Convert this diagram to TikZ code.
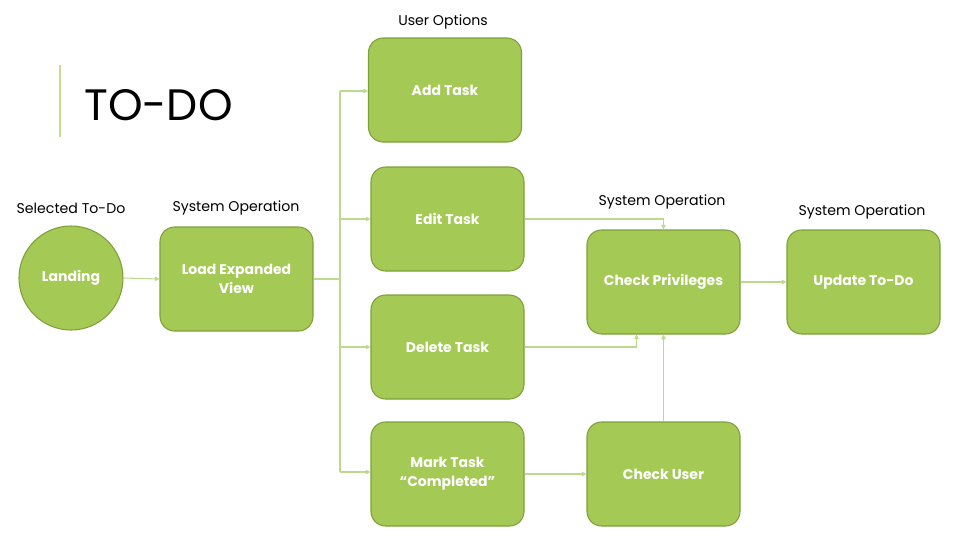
\documentclass[tikz,border=0pt]{standalone}
\usepackage{fontspec}
\setmainfont{Poppins}
\usetikzlibrary{arrows.meta,calc}
\definecolor{boxfill}{HTML}{A5C955}
\definecolor{boxline}{HTML}{7E9F3C}
\definecolor{conn}{HTML}{BCDA8E}
\definecolor{accent}{HTML}{C3DE8E}
\tikzset{
  box/.style={draw=boxline, line width=0.8pt, fill=boxfill, rounded corners=11pt,
    minimum width=114.75pt, minimum height=78pt, text=white, align=center,
    font=\fontsize{10.5}{14}\selectfont\bfseries, inner sep=2pt},
  circ/.style={draw=boxline, line width=0.8pt, fill=boxfill, circle, minimum size=78pt,
    text=white, font=\fontsize{10.5}{14}\selectfont\bfseries},
  lbl/.style={font=\fontsize{10.6}{12}\selectfont, text=black},
  link/.style={draw=conn, line width=0.8pt, -{Triangle[length=3.5pt,width=3.5pt]}},
  plain/.style={draw=conn, line width=0.8pt}
}
\begin{document}
\begin{tikzpicture}[x=0.75pt,y=-0.75pt]
\useasboundingbox (0,0) rectangle (960,540);
% title
\draw[accent, line width=1.6pt] (60,65) -- (60,137);
\node[anchor=west, font=\fontsize{33}{38}\selectfont, inner sep=0pt] (title) at (84,105) {TO-DO};
% nodes
\node[circ] (landing) at (71,278) {Landing};
\node[box] (load) at (236.5,279) {Load Expanded\\View};
\node[box] (add) at (445,90) {Add Task};
\node[box] (edit) at (447.5,219) {Edit Task};
\node[box] (del) at (447.5,347) {Delete Task};
\node[box] (mark) at (447.5,474) {Mark Task\\“Completed”};
\node[box] (priv) at (663.5,282) {Check Privileges};
\node[box] (user) at (663.5,474) {Check User};
\node[box] (upd) at (863.5,282) {Update To-Do};
% labels
\node[lbl] (l1) at (71,208) {Selected To-Do};
\node[lbl] (l2) at (236,208) {System Operation};
\node[lbl] (l3) at (443,22) {User Options};
\node[lbl] (l4) at (662,202) {System Operation};
\node[lbl] (l5) at (862,212) {System Operation};
% connectors
\coordinate (bus) at (340,279);
\draw[link] (landing.east) -- (load.west);
\draw[plain] (load.east) -- (bus);
\draw[plain] (340,91) -- (340,472);
\draw[link] (340,91) -- (add.west |- 340,91);
\draw[link] (340,219) -- (edit.west);
\draw[link] (340,347) -- (del.west);
\draw[link] (340,472) -- (mark.west |- 340,472);
\draw[link] (edit.east) -| (priv.north);
\draw[link] (del.east) -| ($(priv.south)+(-27,0)$);
\draw[link] (mark.east) -- (user.west);
\draw[link] (user.north) -- (priv.south);
\draw[link] (priv.east) -- (upd.west);
\end{tikzpicture}
\end{document}
